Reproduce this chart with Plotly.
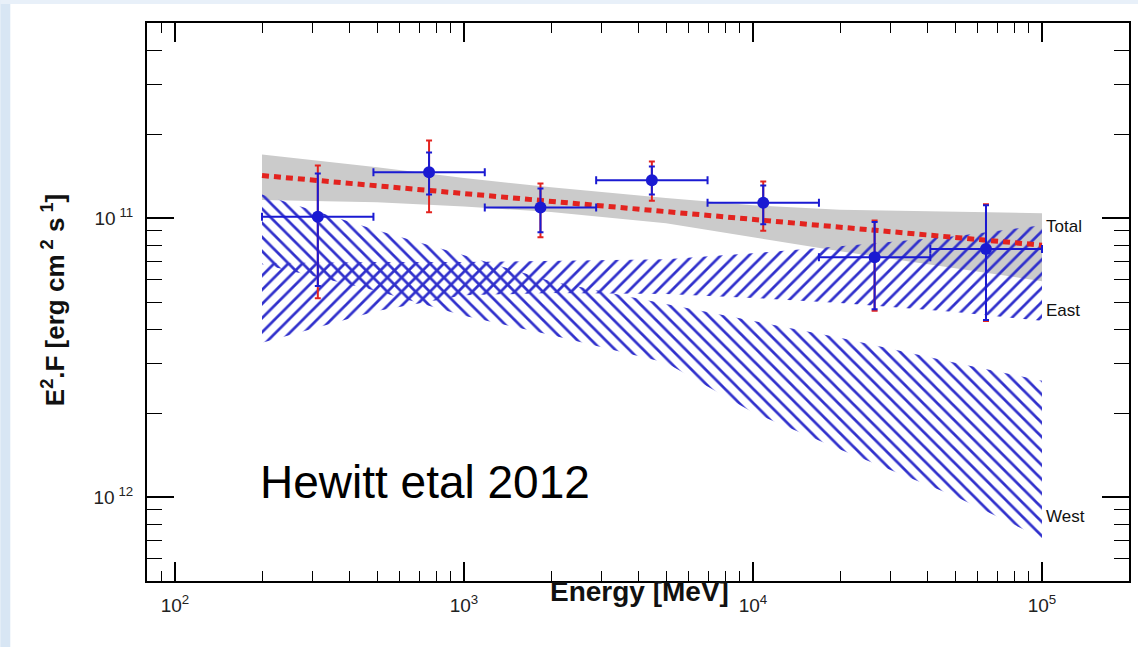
import numpy as np
import plotly.graph_objects as go

# ---------------- data ----------------
band_E = [200, 500, 1000, 2000, 5000, 10000, 20000, 50000, 100000]
total_hi = [1.69e-11, 1.52e-11, 1.39e-11, 1.29e-11, 1.18e-11, 1.11e-11, 1.07e-11, 1.05e-11, 1.04e-11]
total_lo = [1.16e-11, 1.14e-11, 1.10e-11, 1.05e-11, 9.57e-12, 8.53e-12, 7.60e-12, 6.61e-12, 5.94e-12]
east_hi = [6.89e-12, 6.95e-12, 6.95e-12, 7.01e-12, 7.12e-12, 7.48e-12, 7.92e-12, 8.60e-12, 9.42e-12]
east_lo = [3.57e-12, 4.64e-12, 5.29e-12, 5.38e-12, 5.34e-12, 5.17e-12, 4.96e-12, 4.60e-12, 4.28e-12]
west_hi = [1.215e-11, 9.04e-12, 7.36e-12, 5.94e-12, 4.92e-12, 4.28e-12, 3.72e-12, 3.03e-12, 2.61e-12]
west_lo = [6.83e-12, 5.47e-12, 4.46e-12, 3.81e-12, 3.03e-12, 2.01e-12, 1.48e-12, 1.006e-12, 7.12e-13]

fit_E = [200, 100000]
fit_F = [1.42e-11, 7.99e-12]

pt_E = [312, 757, 1839, 4467, 10850, 26350, 64000]
pt_Elo = [200, 486, 1180, 2866, 6962, 16910, 41070]
pt_Ehi = [486, 1180, 2866, 6962, 16910, 41070, 100000]
pt_F = [1.01e-11, 1.46e-11, 1.09e-11, 1.365e-11, 1.135e-11, 7.24e-12, 7.75e-12]
stat_hi = [1.444e-11, 1.718e-11, 1.277e-11, 1.531e-11, 1.309e-11, 9.68e-12, 1.110e-11]
stat_lo = [5.70e-12, 1.215e-11, 8.89e-12, 1.215e-11, 9.49e-12, 4.71e-12, 4.31e-12]
sys_hi = [1.541e-11, 1.894e-11, 1.330e-11, 1.594e-11, 1.352e-11, 9.80e-12, 1.12e-11]
sys_lo = [5.16e-12, 1.048e-11, 8.53e-12, 1.154e-11, 9.01e-12, 4.65e-12, 4.27e-12]

x_tickvals = [100, 1000, 10000, 100000]
x_ticktext = ["10<sup>2</sup>", "10<sup>3</sup>", "10<sup>4</sup>", "10<sup>5</sup>"]
y_tickvals = [1e-12, 1e-11]
y_ticktext = ["10<sup> 12</sup>", "10<sup> 11</sup>"]

band_labels = ["Total", "East", "West"]
band_label_F = [9.3e-12, 4.65e-12, 8.5e-13]

# ---------------- figure ----------------
W, H = 1140, 647
ML, MR, MT, MB = 147, 9, 23, 66
PW, PH = W - ML - MR, H - MT - MB
FONT = "Liberation Sans, Arial, Helvetica, sans-serif"
BLUE = "#1a1ad2"
HATCH = "#3030cc"
RED = "#e3231f"


def px(xp):
    return (xp - ML) / PW


def py(yp):
    return (H - MB - yp) / PH


def poly(lo, hi):
    return band_E + band_E[::-1], hi + lo[::-1]


fig = go.Figure()

xs, ys = poly(total_lo, total_hi)
fig.add_trace(go.Scatter(x=xs, y=ys, fill="toself", mode="lines", line=dict(width=0),
                         fillcolor="#cbcbcb", hoverinfo="skip", showlegend=False))

for lo, hi, shp in [(west_lo, west_hi, "\\"), (east_lo, east_hi, "/")]:
    xs, ys = poly(lo, hi)
    fig.add_trace(go.Scatter(
        x=xs, y=ys, fill="toself", mode="lines", line=dict(width=0),
        fillcolor="rgba(0,0,0,0)",
        fillpattern=dict(shape=shp, size=10, solidity=0.27, fgcolor=HATCH,
                         bgcolor="rgba(0,0,0,0)", fillmode="replace"),
        hoverinfo="skip", showlegend=False))

fig.add_trace(go.Scatter(x=fit_E, y=fit_F, mode="lines",
                         line=dict(color=RED, width=5, dash="7px,5px"),
                         showlegend=False))

fig.add_trace(go.Scatter(
    x=pt_E, y=pt_F, mode="markers", marker=dict(size=2, color="rgba(0,0,0,0)"),
    error_y=dict(type="data", symmetric=False,
                 array=[h - f for h, f in zip(sys_hi, pt_F)],
                 arrayminus=[f - l for l, f in zip(sys_lo, pt_F)],
                 color=RED, thickness=2, width=3),
    showlegend=False))

fig.add_trace(go.Scatter(
    x=pt_E, y=pt_F, mode="markers", marker=dict(size=12, color=BLUE),
    error_x=dict(type="data", symmetric=False,
                 array=[h - e for h, e in zip(pt_Ehi, pt_E)],
                 arrayminus=[e - l for l, e in zip(pt_Elo, pt_E)],
                 color=BLUE, thickness=2, width=4),
    error_y=dict(type="data", symmetric=False,
                 array=[h - f for h, f in zip(stat_hi, pt_F)],
                 arrayminus=[f - l for l, f in zip(stat_lo, pt_F)],
                 color=BLUE, thickness=2, width=3),
    showlegend=False))

x_minor = [m * 10 ** d for d in range(1, 6) for m in range(2, 10) if 80 <= m * 10 ** d <= 2e5]
y_minor = [m * 10.0 ** d for d in (-13, -12, -11) for m in range(2, 10) if 5e-13 <= m * 10.0 ** d <= 5e-11]

fig.update_xaxes(
    type="log", range=[np.log10(80), np.log10(2e5)],
    showline=True, linecolor="black", linewidth=2, mirror="ticks",
    ticks="inside", ticklen=19, tickwidth=1.6, tickcolor="black",
    tickvals=x_tickvals, ticktext=x_ticktext, ticklabelstandoff=6,
    tickfont=dict(family=FONT, size=19, color="#222"),
    minor=dict(tickvals=x_minor, ticks="inside", ticklen=10, tickwidth=1.3, tickcolor="black", showgrid=False),
    showgrid=False, zeroline=False)

fig.update_yaxes(
    type="log", range=[np.log10(5e-13), np.log10(5e-11)],
    showline=True, linecolor="black", linewidth=2, mirror="ticks",
    ticks="inside", ticklen=27, tickwidth=1.6, tickcolor="black",
    tickvals=y_tickvals, ticktext=y_ticktext, ticklabelstandoff=8,
    tickfont=dict(family=FONT, size=19, color="#222"),
    minor=dict(tickvals=y_minor, ticks="inside", ticklen=15, tickwidth=1.3, tickcolor="black", showgrid=False),
    showgrid=False, zeroline=False)

for lab, f in zip(band_labels, band_label_F):
    fig.add_annotation(x=np.log10(1.02e5), y=np.log10(f), xref="x", yref="y", text=lab,
                       showarrow=False, xanchor="left", yanchor="middle",
                       font=dict(family=FONT, size=17, color="#111"))

fig.add_annotation(x=px(258), y=py(482), xref="paper", yref="paper", text="Hewitt etal 2012",
                   showarrow=False, xanchor="left", yanchor="middle",
                   font=dict(family=FONT, size=46, color="black"))

fig.add_annotation(x=px(641), y=py(591), xref="paper", yref="paper", text="<b>Energy [MeV]</b>",
                   showarrow=False, xanchor="center", yanchor="middle",
                   font=dict(family=FONT, size=28, color="#111"))

fig.add_annotation(x=px(53), y=py(300), xref="paper", yref="paper",
                   text="<b>E<sup>2</sup>.F [erg cm<sup> 2</sup> s<sup> 1</sup>]</b>",
                   textangle=-90, showarrow=False, xanchor="center", yanchor="middle",
                   font=dict(family=FONT, size=26, color="#111"))

# slide background strips
fig.add_shape(type="rect", xref="paper", yref="paper", x0=px(0), x1=px(10), y0=py(H), y1=py(0),
              fillcolor="#d8e6f4", line=dict(width=0), layer="below")
fig.add_shape(type="rect", xref="paper", yref="paper", x0=px(0), x1=px(W), y0=py(4), y1=py(0),
              fillcolor="#e8f0f9", line=dict(width=0), layer="below")

fig.update_layout(
    width=W, height=H, margin=dict(l=ML, r=MR, t=MT, b=MB),
    paper_bgcolor="white", plot_bgcolor="white", showlegend=False)

fig.write_html("out.html")
